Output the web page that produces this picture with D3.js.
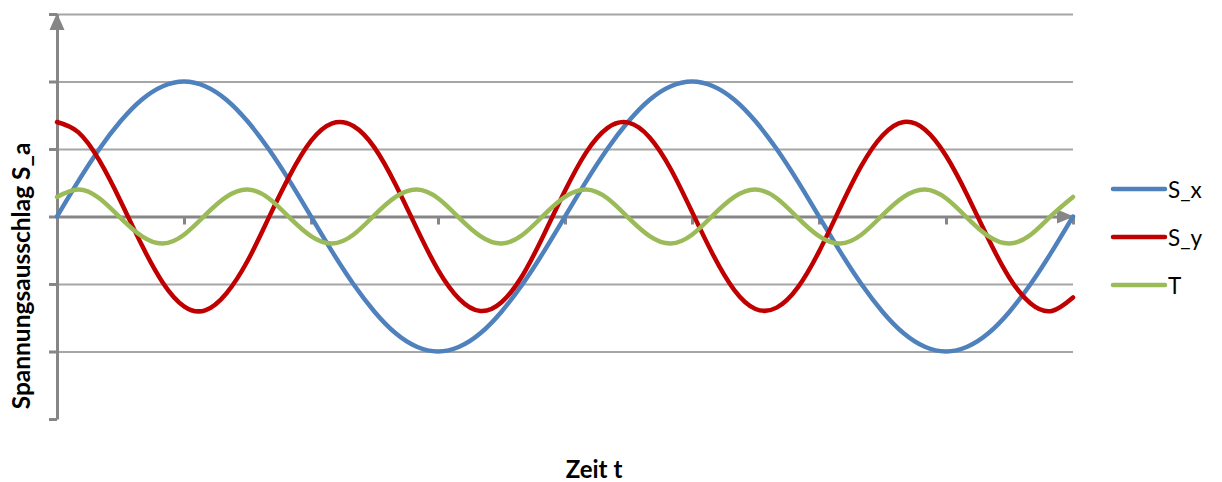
<!DOCTYPE html>
<html>
<head>
<meta charset="utf-8">
<script src="https://cdn.jsdelivr.net/npm/d3@7"></script>
<style>
  html, body { margin: 0; padding: 0; background: #fff; }
  svg { display: block; font-family: Lato, "Open Sans", sans-serif; }
</style>
</head>
<body>
<svg id="chart" width="1222" height="482"></svg>
<script>
// Sample index along the time axis (0..48)
const samples = d3.range(0, 49);

// Series values per sample
const sx = [0, 0.52, 1.00, 1.41, 1.73, 1.93, 2.00, 1.93, 1.73, 1.41, 1.00, 0.52,
            0, -0.52, -1.00, -1.41, -1.73, -1.93, -2.00, -1.93, -1.73, -1.41, -1.00, -0.52,
            0, 0.52, 1.00, 1.41, 1.73, 1.93, 2.00, 1.93, 1.73, 1.41, 1.00, 0.52,
            0, -0.52, -1.00, -1.41, -1.73, -1.93, -2.00, -1.93, -1.73, -1.41, -1.00, -0.52, 0];

const sy = [1.40, 1.25, 0.83, 0.23, -0.42, -0.98, -1.33, -1.39, -1.14, -0.66, -0.02, 0.61,
            1.12, 1.38, 1.34, 1.02, 0.47, -0.18, -0.79, -1.22, -1.40, -1.27, -0.87, -0.27,
            0.38, 0.95, 1.31, 1.39, 1.17, 0.70, 0.07, -0.57, -1.09, -1.37, -1.35, -1.05,
            -0.52, 0.13, 0.75, 1.20, 1.40, 1.29, 0.90, 0.32, -0.33, -0.91, -1.29, -1.40, -1.20];

const tt = [0.29, 0.40, 0.27, -0.02, -0.29, -0.40, -0.27, 0.02,
            0.29, 0.40, 0.27, -0.02, -0.29, -0.40, -0.27, 0.02,
            0.29, 0.40, 0.27, -0.02, -0.29, -0.40, -0.27, 0.02,
            0.29, 0.40, 0.27, -0.02, -0.29, -0.40, -0.27, 0.02,
            0.29, 0.40, 0.27, -0.02, -0.29, -0.40, -0.27, 0.02,
            0.29, 0.40, 0.27, -0.02, -0.29, -0.40, -0.27, 0.02, 0.29];

const seriesNames = ["S_x", "S_y", "T"];
const seriesColors = ["#4F81BD", "#C00000", "#9BBB59"];
const seriesValues = [sx, sy, tt];

// Axis ticks (no labels on either axis)
const xTicks = [6, 12, 18, 24, 30, 36, 42, 48];
const yTicks = [-3, -2, -1, 0, 1, 2, 3];

const yTitle = "Spannungsausschlag S_a";
const xTitle = "Zeit t";

const svg = d3.select("#chart");
const plot = { left: 57, right: 1073, top: 14, bottom: 419 };

const x = d3.scaleLinear().domain([0, 48]).range([plot.left, plot.right]);
const y = d3.scaleLinear().domain([-3, 3]).range([plot.bottom, plot.top]);

const axisColor = "#868686";
const gridColor = "#A6A6A6";

// Horizontal gridlines
svg.append("g")
  .attr("transform", `translate(${plot.left},0)`)
  .call(d3.axisLeft(y).tickValues(yTicks.filter(v => v !== 0 && v !== -3))
    .tickSize(-(plot.right - plot.left)).tickFormat(""))
  .call(g => g.select(".domain").remove())
  .call(g => g.selectAll("line").attr("stroke", gridColor).attr("stroke-width", 2));

// Y axis: line, outside ticks, arrow at the top
const yAxis = svg.append("g")
  .attr("transform", `translate(${plot.left},0)`)
  .call(d3.axisLeft(y).tickValues(yTicks).tickSize(8).tickSizeOuter(0).tickFormat(""));
yAxis.select(".domain").attr("stroke", axisColor).attr("stroke-width", 3);
yAxis.selectAll("line").attr("stroke", axisColor).attr("stroke-width", 3);

// X axis at zero with ticks below and an arrow at the right
const xAxis = svg.append("g")
  .attr("transform", `translate(0,${y(0)})`)
  .call(d3.axisBottom(x).tickValues(xTicks).tickSize(8).tickSizeOuter(0).tickFormat(""));
xAxis.select(".domain").attr("stroke", axisColor).attr("stroke-width", 3);
xAxis.selectAll("line").attr("stroke", axisColor).attr("stroke-width", 3);

// Arrowheads
svg.append("path")
  .attr("d", `M${plot.left},${plot.top - 1} L${plot.left - 7.5},${plot.top + 16} L${plot.left + 7.5},${plot.top + 16} Z`)
  .attr("fill", axisColor);
svg.append("path")
  .attr("d", `M${plot.right + 1},${y(0)} L${plot.right - 16},${y(0) - 7} L${plot.right - 16},${y(0) + 7} Z`)
  .attr("fill", axisColor);

// Smoothed series lines
const line = d3.line()
  .x((d, i) => x(samples[i]))
  .y(d => y(d))
  .curve(d3.curveNatural);

seriesValues.forEach((vals, k) => {
  svg.append("path")
    .datum(vals)
    .attr("d", line)
    .attr("fill", "none")
    .attr("stroke", seriesColors[k])
    .attr("stroke-width", 4.5)
    .attr("stroke-linejoin", "round")
    .attr("stroke-linecap", "round");
});

// Legend
const legend = svg.append("g");
seriesNames.forEach((name, k) => {
  const ly = 189 + k * 48;
  legend.append("line")
    .attr("x1", 1113).attr("x2", 1165)
    .attr("y1", ly).attr("y2", ly)
    .attr("stroke", seriesColors[k])
    .attr("stroke-width", 4.5)
    .attr("stroke-linecap", "round");
  legend.append("text")
    .attr("x", 1168).attr("y", ly + 8.5)
    .attr("font-size", 22.5)
    .attr("fill", "#000")
    .text(name);
});

// Axis titles
svg.append("text")
  .attr("x", 594).attr("y", 478)
  .attr("text-anchor", "middle")
  .attr("font-size", 24)
  .attr("font-weight", "bold")
  .text(xTitle);

svg.append("text")
  .attr("transform", "translate(30,276) rotate(-90)")
  .attr("text-anchor", "middle")
  .attr("font-size", 24.5)
  .attr("font-weight", "bold")
  .text(yTitle);
</script>
</body>
</html>
